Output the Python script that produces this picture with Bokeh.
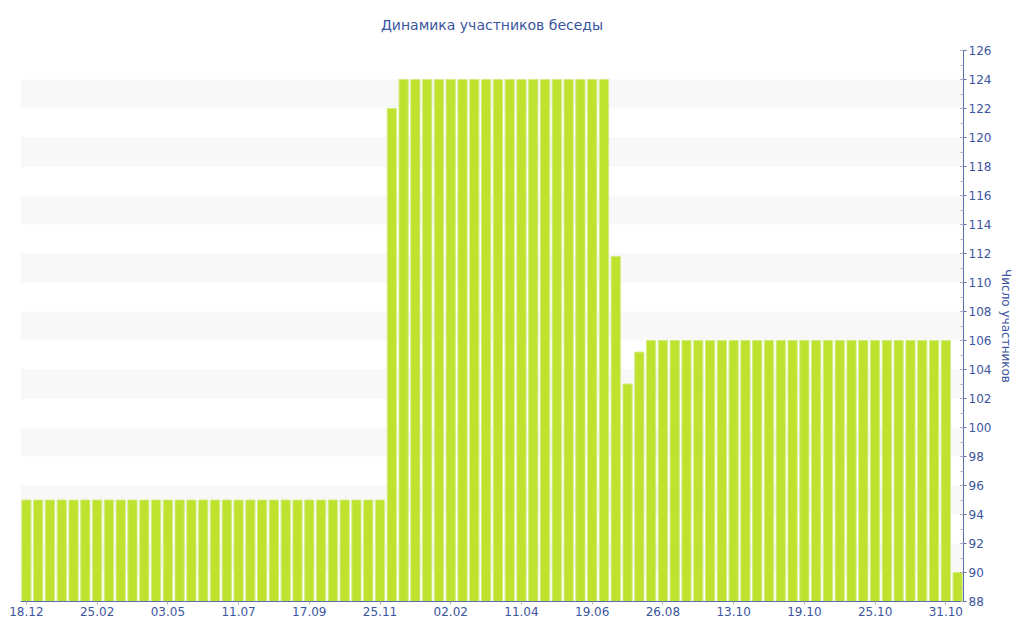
from bokeh.plotting import figure
from bokeh.models import Range1d, FixedTicker, SingleIntervalTicker
from bokeh.embed import file_html
from bokeh.resources import INLINE

title_text = "Динамика участников беседы"
y_label = "Число участников"

members = [
    95, 95, 95, 95, 95, 95, 95, 95, 95, 95,
    95, 95, 95, 95, 95, 95, 95, 95, 95, 95,
    95, 95, 95, 95, 95, 95, 95, 95, 95, 95,
    95, 122, 124, 124, 124, 124, 124, 124, 124, 124,
    124, 124, 124, 124, 124, 124, 124, 124, 124, 124,
    111.8, 103, 105.2, 106, 106, 106, 106, 106, 106, 106,
    106, 106, 106, 106, 106, 106, 106, 106, 106, 106,
    106, 106, 106, 106, 106, 106, 106, 106, 106, 90,
]
tick_positions = [0, 6, 12, 18, 24, 30, 36, 42, 48, 54, 60, 66, 72, 78]
tick_labels = ["18.12", "25.02", "03.05", "11.07", "17.09", "25.11", "02.02",
               "11.04", "19.06", "26.08", "13.10", "19.10", "25.10", "31.10"]

idx = list(range(len(members)))

TXT = "#3b55a0"
AX = "#5a6eae"
FONT = "DejaVu Sans"

p = figure(width=1016, height=632, output_backend="svg", toolbar_location=None,
           y_axis_location="right",
           x_range=Range1d(-0.5, len(members) - 0.5), y_range=Range1d(88, 126),
           min_border_left=20, min_border_right=52, min_border_top=50, min_border_bottom=31)

p.title.text = title_text
p.title.align = "center"
p.title.text_font = FONT
p.title.text_font_size = "14px"
p.title.text_font_style = "normal"
p.title.text_color = TXT
p.title.standoff = 32
p.title.vertical_align = "top"

p.vbar(x=idx, top=members, bottom=88, width=0.78,
       fill_color="#bee22e", line_color="#d3ec80", line_width=1)

p.outline_line_color = None
p.xgrid.grid_line_color = None
p.ygrid.grid_line_color = None
p.ygrid.band_fill_color = "#f8f8f8"
p.ygrid.band_fill_alpha = 1.0

yax = p.yaxis[0]
yax.ticker = SingleIntervalTicker(interval=2, num_minor_ticks=2)
yax.axis_label = y_label
yax.axis_label_text_font = FONT
yax.axis_label_text_font_size = "12px"
yax.axis_label_text_font_style = "normal"
yax.axis_label_text_color = TXT
yax.axis_label_standoff = 5
yax.major_label_text_font = FONT
yax.major_label_text_font_size = "12px"
yax.major_label_text_color = TXT
yax.major_label_standoff = 2
yax.axis_line_color = AX
yax.major_tick_line_color = AX
yax.major_tick_in = 3
yax.major_tick_out = 3
yax.minor_tick_line_color = "#b0b0b0"
yax.minor_tick_in = 3
yax.minor_tick_out = 0

xax = p.xaxis[0]
xax.ticker = FixedTicker(ticks=tick_positions)
xax.major_label_overrides = {t: l for t, l in zip(tick_positions, tick_labels)}
xax.major_label_text_font = FONT
xax.major_label_text_font_size = "12px"
xax.major_label_text_color = TXT
xax.major_label_standoff = 2
xax.axis_line_color = AX
xax.major_tick_line_color = "#b0b0b0"
xax.major_tick_in = 0
xax.major_tick_out = 3
xax.minor_tick_line_color = None

open("out.html", "w").write(file_html(p, INLINE))
